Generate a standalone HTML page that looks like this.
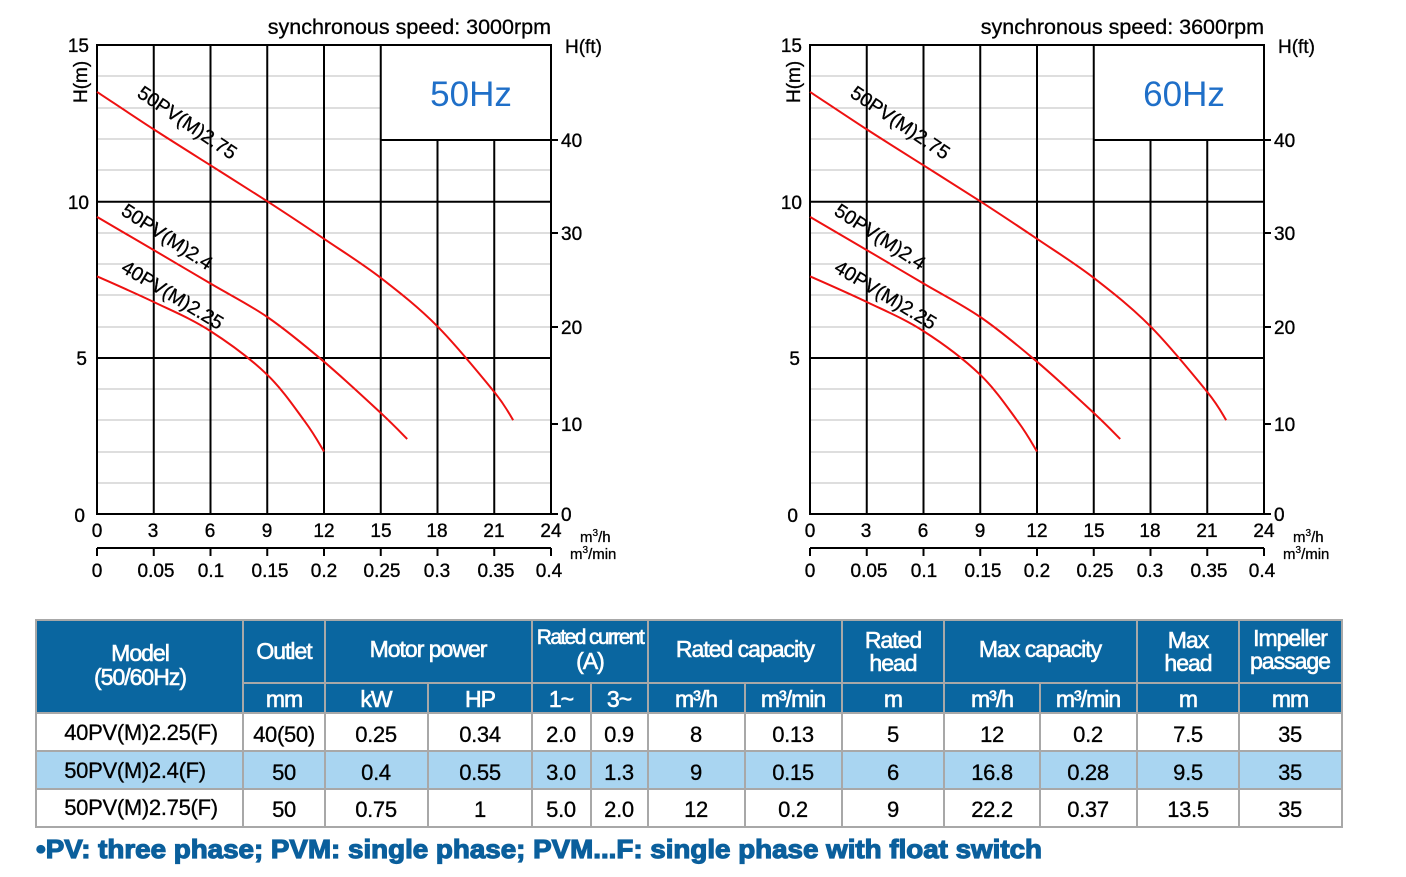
<!DOCTYPE html>
<html><head><meta charset="utf-8"><style>
html,body{margin:0;padding:0;background:#fff;}
svg{display:block;font-family:"Liberation Sans",Arial,sans-serif;}
</style></head><body>
<svg width="1406" height="877" viewBox="0 0 1406 877" xmlns="http://www.w3.org/2000/svg">
<defs>
<g id="chart">
  <g stroke="#bdbdbd" stroke-width="1">
    <line x1="97" y1="76" x2="381" y2="76"/>
    <line x1="97" y1="108" x2="381" y2="108"/>
    <line x1="97" y1="139" x2="381" y2="139"/>
    <line x1="97" y1="170" x2="551" y2="170"/>
    <line x1="97" y1="233" x2="551" y2="233"/>
    <line x1="97" y1="264" x2="551" y2="264"/>
    <line x1="97" y1="295" x2="551" y2="295"/>
    <line x1="97" y1="327" x2="551" y2="327"/>
    <line x1="97" y1="389" x2="551" y2="389"/>
    <line x1="97" y1="420" x2="551" y2="420"/>
    <line x1="97" y1="452" x2="551" y2="452"/>
    <line x1="97" y1="483" x2="551" y2="483"/>
  </g>
  <g stroke="#000" stroke-width="2" fill="none">
    <rect x="97" y="45" width="454" height="469"/>
    <line x1="153.75" y1="45" x2="153.75" y2="514"/>
    <line x1="210.5" y1="45" x2="210.5" y2="514"/>
    <line x1="267.25" y1="45" x2="267.25" y2="514"/>
    <line x1="324" y1="45" x2="324" y2="514"/>
    <line x1="380.75" y1="45" x2="380.75" y2="514"/>
    <line x1="437.5" y1="140" x2="437.5" y2="514"/>
    <line x1="494.25" y1="140" x2="494.25" y2="514"/>
    <line x1="381" y1="140" x2="558" y2="140"/>
    <line x1="97" y1="201.7" x2="551" y2="201.7"/>
    <line x1="97" y1="358" x2="551" y2="358"/>
    <line x1="551" y1="233" x2="558" y2="233"/>
    <line x1="551" y1="327" x2="558" y2="327"/>
    <line x1="551" y1="424" x2="558" y2="424"/>
    <line x1="551" y1="514" x2="558" y2="514"/>
    <line x1="97" y1="548" x2="551" y2="548"/>
    <line x1="97" y1="548" x2="97" y2="556"/>
    <line x1="153.75" y1="548" x2="153.75" y2="556"/>
    <line x1="210.5" y1="548" x2="210.5" y2="556"/>
    <line x1="267.25" y1="548" x2="267.25" y2="556"/>
    <line x1="324" y1="548" x2="324" y2="556"/>
    <line x1="380.75" y1="548" x2="380.75" y2="556"/>
    <line x1="437.5" y1="548" x2="437.5" y2="556"/>
    <line x1="494.25" y1="548" x2="494.25" y2="556"/>
    <line x1="551" y1="548" x2="551" y2="556"/>
  </g>
  <g stroke="#ee1111" stroke-width="2" fill="none" stroke-linejoin="round">
    <path id="c1" d="M97,91.9 L153.75,129.4 L210.5,165.3 L267.3,201.3 L324,238.8 L380.8,277.9 L437.5,326.4 L494.3,392 L513,420"/>
    <path id="c2" d="M97,217 L153.75,250 L210.5,284 L267.3,317 L324,361.7 L380.8,413 L407,439"/>
    <path id="c3" d="M97,276.3 L153.75,300 L210.5,329.5 L267.3,375 L305,421.7 L324,451.5"/>
  </g>
  <g font-size="19.5" fill="#000" stroke="#000" stroke-width="0.3">
    <text transform="translate(136,96) rotate(34)">50PV(M)2.75</text>
    <text transform="translate(120,214) rotate(33)">50PV(M)2.4</text>
    <text transform="translate(120,271) rotate(31)">40PV(M)2.25</text>
  </g>
  <g font-size="19" fill="#000" stroke="#000" stroke-width="0.35">
    <text x="89" y="52" text-anchor="end">15</text>
    <text x="89" y="209" text-anchor="end">10</text>
    <text x="87" y="365" text-anchor="end">5</text>
    <text x="85" y="522" text-anchor="end">0</text>
    <text x="561" y="147">40</text>
    <text x="561" y="240">30</text>
    <text x="561" y="334">20</text>
    <text x="561" y="431">10</text>
    <text x="561" y="521">0</text>
    <g text-anchor="middle">
      <text x="97" y="537">0</text><text x="153" y="537">3</text><text x="210" y="537">6</text>
      <text x="267" y="537">9</text><text x="324" y="537">12</text><text x="381" y="537">15</text>
      <text x="437" y="537">18</text><text x="494" y="537">21</text><text x="551" y="537">24</text>
      <text x="97" y="577">0</text><text x="156" y="577">0.05</text><text x="211" y="577">0.1</text>
      <text x="270" y="577">0.15</text><text x="324" y="577">0.2</text><text x="382" y="577">0.25</text>
      <text x="437" y="577">0.3</text><text x="496" y="577">0.35</text><text x="549" y="577">0.4</text>
    </g>
  </g>
  <text x="565" y="53" font-size="19" stroke="#000" stroke-width="0.3">H(ft)</text>
  <text transform="translate(87,103) rotate(-90)" font-size="19" stroke="#000" stroke-width="0.3">H(m)</text>
  <g stroke="#000" stroke-width="0.3">
  <text x="580" y="542" font-size="15">m<tspan dy="-6" font-size="10">3</tspan><tspan dy="6">/h</tspan></text>
  <text x="570" y="559" font-size="15">m<tspan dy="-6" font-size="10">3</tspan><tspan dy="6">/min</tspan></text>
  </g>
</g>
</defs>

<use href="#chart"/>
<text x="551" y="34" font-size="21.5" text-anchor="end" stroke="#000" stroke-width="0.3">synchronous speed: 3000rpm</text>
<text x="471" y="106" font-size="35" fill="#1f6fc8" text-anchor="middle">50Hz</text>

<use href="#chart" transform="translate(713,0)"/>
<text x="1264" y="34" font-size="21.5" text-anchor="end" stroke="#000" stroke-width="0.3">synchronous speed: 3600rpm</text>
<text x="1184" y="106" font-size="35" fill="#1f6fc8" text-anchor="middle">60Hz</text>

<rect x="36" y="620" width="1306" height="93" fill="#0a66a0"/>
<rect x="36" y="713" width="1306" height="38" fill="#fff"/>
<rect x="36" y="751" width="1306" height="38" fill="#a9d5f1"/>
<rect x="36" y="789" width="1306" height="38" fill="#fff"/>
<g stroke="#a8a8a8" stroke-width="2" fill="none">
  <rect x="36" y="620" width="1306" height="207"/>
  <line x1="243" y1="683" x2="1342" y2="683"/>
  <line x1="36" y1="713" x2="1342" y2="713"/>
  <line x1="36" y1="751" x2="1342" y2="751"/>
  <line x1="36" y1="789" x2="1342" y2="789"/>
  <line x1="243" y1="620" x2="243" y2="827"/>
  <line x1="325" y1="620" x2="325" y2="827"/>
  <line x1="428" y1="683" x2="428" y2="827"/>
  <line x1="532" y1="620" x2="532" y2="827"/>
  <line x1="591" y1="683" x2="591" y2="827"/>
  <line x1="648" y1="620" x2="648" y2="827"/>
  <line x1="745" y1="683" x2="745" y2="827"/>
  <line x1="842" y1="620" x2="842" y2="827"/>
  <line x1="944" y1="620" x2="944" y2="827"/>
  <line x1="1040" y1="683" x2="1040" y2="827"/>
  <line x1="1137" y1="620" x2="1137" y2="827"/>
  <line x1="1239" y1="620" x2="1239" y2="827"/>
</g>
<g fill="#fff" stroke="#fff" stroke-width="0.6" font-size="23" text-anchor="middle" letter-spacing="-1">
  <text x="140" y="661">Model</text>
  <text x="140" y="685">(50/60Hz)</text>
  <text x="284" y="659">Outlet</text>
  <text x="428" y="657">Motor power</text>
  <text x="590" y="644" font-size="21" letter-spacing="-1.6">Rated current</text>
  <text x="590" y="669">(A)</text>
  <text x="745" y="657">Rated capacity</text>
  <text x="893" y="648">Rated</text>
  <text x="893" y="671">head</text>
  <text x="1040" y="657">Max capacity</text>
  <text x="1188" y="648">Max</text>
  <text x="1188" y="671">head</text>
  <text x="1290" y="646">Impeller</text>
  <text x="1290" y="669">passage</text>
  <text x="284" y="707">mm</text>
  <text x="376" y="707">kW</text>
  <text x="480" y="707">HP</text>
  <text x="561" y="707">1~</text>
  <text x="619" y="707">3~</text>
  <text x="696" y="707">m³/h</text>
  <text x="793" y="707">m³/min</text>
  <text x="893" y="707">m</text>
  <text x="992" y="707">m³/h</text>
  <text x="1088" y="707">m³/min</text>
  <text x="1188" y="707">m</text>
  <text x="1290" y="707">mm</text>
</g>
<g fill="#000" stroke="#000" stroke-width="0.3" font-size="22" text-anchor="middle" letter-spacing="-0.3">
  <text x="141" y="740">40PV(M)2.25(F)</text><text x="284" y="742">40(50)</text><text x="376" y="742">0.25</text><text x="480" y="742">0.34</text><text x="561" y="742">2.0</text><text x="619" y="742">0.9</text><text x="696" y="742">8</text><text x="793" y="742">0.13</text><text x="893" y="742">5</text><text x="992" y="742">12</text><text x="1088" y="742">0.2</text><text x="1188" y="742">7.5</text><text x="1290" y="742">35</text>
  <text x="135" y="778">50PV(M)2.4(F)</text><text x="284" y="780">50</text><text x="376" y="780">0.4</text><text x="480" y="780">0.55</text><text x="561" y="780">3.0</text><text x="619" y="780">1.3</text><text x="696" y="780">9</text><text x="793" y="780">0.15</text><text x="893" y="780">6</text><text x="992" y="780">16.8</text><text x="1088" y="780">0.28</text><text x="1188" y="780">9.5</text><text x="1290" y="780">35</text>
  <text x="141" y="815">50PV(M)2.75(F)</text><text x="284" y="817">50</text><text x="376" y="817">0.75</text><text x="480" y="817">1</text><text x="561" y="817">5.0</text><text x="619" y="817">2.0</text><text x="696" y="817">12</text><text x="793" y="817">0.2</text><text x="893" y="817">9</text><text x="992" y="817">22.2</text><text x="1088" y="817">0.37</text><text x="1188" y="817">13.5</text><text x="1290" y="817">35</text>
</g>
<text x="36" y="858" font-size="26" font-weight="bold" fill="#0a5f9c" stroke="#0a5f9c" stroke-width="1.2" textLength="1006" lengthAdjust="spacingAndGlyphs">•PV: three phase; PVM: single phase; PVM...F: single phase with float switch</text>
</svg>
<script>
(function(){
  function X(q){return 97+q*18.917;}
  function Y(h){return 514-h*31.27;}
  function path(data){
    var p=data.map(function(d){return [X(d[0]),Y(d[1])];});
    var s="M"+p[0][0].toFixed(1)+","+p[0][1].toFixed(1);
    for(var i=0;i<p.length-1;i++){
      var p0=p[i-1]||p[i],p1=p[i],p2=p[i+1],p3=p[i+2]||p[i+1];
      var c1=[p1[0]+(p2[0]-p0[0])/6,p1[1]+(p2[1]-p0[1])/6];
      var c2=[p2[0]-(p3[0]-p1[0])/6,p2[1]-(p3[1]-p1[1])/6];
      s+=" C"+c1[0].toFixed(1)+","+c1[1].toFixed(1)+" "+c2[0].toFixed(1)+","+c2[1].toFixed(1)+" "+p2[0].toFixed(1)+","+p2[1].toFixed(1);
    }
    return s;
  }
  document.getElementById("c1").setAttribute("d",path([[0,13.5],[3,12.3],[6,11.15],[9,10],[12,8.8],[15,7.55],[18,6],[21,3.9],[22,3]]));
  document.getElementById("c2").setAttribute("d",path([[0,9.5],[3,8.44],[6,7.37],[9,6.3],[12,4.87],[15,3.23],[16.4,2.4]]));
  document.getElementById("c3").setAttribute("d",path([[0,7.6],[3,6.78],[6,5.85],[9,4.45],[11,2.95],[12,2]]));
})();
</script>
</body></html>
